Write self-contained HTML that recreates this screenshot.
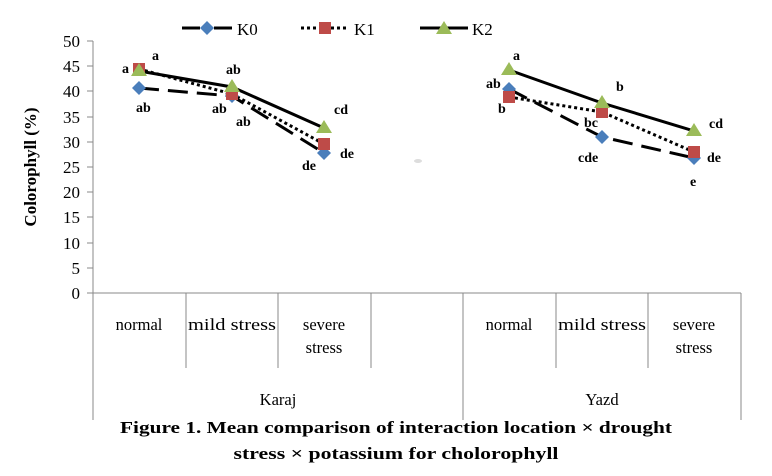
<!DOCTYPE html>
<html><head><meta charset="utf-8"><style>body{margin:0;background:#fff}svg{display:block}</style></head><body>
<svg width="772" height="476" xmlns="http://www.w3.org/2000/svg" font-family="'Liberation Serif',serif">
<rect width="772" height="476" fill="#fff"/>
<g stroke="#888" stroke-width="1">
<line x1="93" y1="41" x2="93" y2="420"/>
<line x1="87" y1="293" x2="741" y2="293"/>
<line x1="186" y1="293" x2="186" y2="368"/><line x1="278" y1="293" x2="278" y2="368"/><line x1="371" y1="293" x2="371" y2="368"/>
<line x1="463" y1="293" x2="463" y2="420"/>
<line x1="556" y1="293" x2="556" y2="368"/><line x1="648" y1="293" x2="648" y2="368"/><line x1="741" y1="293" x2="741" y2="420"/>
<line x1="87" y1="41" x2="93" y2="41"/><line x1="87" y1="66" x2="93" y2="66"/><line x1="87" y1="91" x2="93" y2="91"/><line x1="87" y1="117" x2="93" y2="117"/><line x1="87" y1="142" x2="93" y2="142"/><line x1="87" y1="167" x2="93" y2="167"/><line x1="87" y1="192" x2="93" y2="192"/><line x1="87" y1="217" x2="93" y2="217"/><line x1="87" y1="243" x2="93" y2="243"/><line x1="87" y1="268" x2="93" y2="268"/>
</g>
<g font-size="17" text-anchor="end" fill="#000">
<text x="80" y="47">50</text><text x="80" y="72">45</text><text x="80" y="97">40</text><text x="80" y="123">35</text><text x="80" y="148">30</text><text x="80" y="173">25</text><text x="80" y="198">20</text><text x="80" y="223">15</text><text x="80" y="249">10</text><text x="80" y="274">5</text><text x="80" y="299">0</text>
</g>
<text transform="translate(36,167) rotate(-90)" font-size="17" font-weight="bold" text-anchor="middle">Colorophyll (%)</text>
<g font-size="16.5" text-anchor="middle">
<text x="139" y="330">normal</text><text x="232" y="330" textLength="88" lengthAdjust="spacingAndGlyphs">mild stress</text><text x="324" y="330">severe</text><text x="324" y="353">stress</text>
<text x="509" y="330">normal</text><text x="602" y="330" textLength="88" lengthAdjust="spacingAndGlyphs">mild stress</text><text x="694" y="330">severe</text><text x="694" y="353">stress</text>
<text x="278" y="405">Karaj</text><text x="602" y="405">Yazd</text>
</g>
<g font-size="17" font-weight="bold" text-anchor="middle">
<text x="396" y="433" textLength="552" lengthAdjust="spacingAndGlyphs">Figure 1. Mean comparison of interaction location × drought</text>
<text x="396" y="459" textLength="325" lengthAdjust="spacingAndGlyphs">stress × potassium for cholorophyll</text>
</g>
<g fill="none" stroke="#000" stroke-width="3">
<polyline points="139,88 232,96 324,153" stroke-dasharray="20,9"/>
<polyline points="509,89 602,137 694,158" stroke-dasharray="20,9"/>
<polyline points="139,69 232,94 324,144" stroke-dasharray="3,3"/>
<polyline points="509,97 602,112 694,152" stroke-dasharray="3,3"/>
<polyline points="139,71 232,87 324,128"/>
<polyline points="509,70 602,103 694,131"/>
</g>
<g fill="#4a7ebb"><path d="M139,81l7,7-7,7-7-7z"/><path d="M232,89l7,7-7,7-7-7z"/><path d="M324,146l7,7-7,7-7-7z"/><path d="M509,82l7,7-7,7-7-7z"/><path d="M602,130l7,7-7,7-7-7z"/><path d="M694,151l7,7-7,7-7-7z"/></g>
<g fill="#be4b48"><rect x="133" y="63" width="12" height="12"/><rect x="226" y="88" width="12" height="12"/><rect x="318" y="138" width="12" height="12"/><rect x="503" y="91" width="12" height="12"/><rect x="596" y="106" width="12" height="12"/><rect x="688" y="146" width="12" height="12"/></g>
<g fill="#9bbb59"><path d="M139,63l8,13h-16z"/><path d="M232,79l8,13h-16z"/><path d="M324,120l8,13h-16z"/><path d="M509,62l8,13h-16z"/><path d="M602,95l8,13h-16z"/><path d="M694,123l8,13h-16z"/></g>
<g font-size="14" font-weight="bold">
<text x="152" y="60">a</text><text x="122" y="73">a</text><text x="136" y="112">ab</text>
<text x="226" y="74">ab</text><text x="212" y="113">ab</text><text x="236" y="126">ab</text>
<text x="334" y="114">cd</text><text x="340" y="158">de</text><text x="302" y="170">de</text>
<text x="513" y="60">a</text><text x="486" y="88">ab</text><text x="498" y="113">b</text>
<text x="616" y="91">b</text><text x="584" y="127">bc</text><text x="578" y="162">cde</text>
<text x="709" y="128">cd</text><text x="707" y="162">de</text><text x="690" y="186">e</text>
</g>
<g stroke="#000" stroke-width="3" fill="none">
<line x1="182" y1="28" x2="200" y2="28"/><line x1="214" y1="28" x2="232" y2="28"/>
<line x1="301" y1="28" x2="349" y2="28" stroke-dasharray="3,3"/>
<line x1="420" y1="28" x2="468" y2="28"/>
</g>
<path d="M207,21l7,7-7,7-7-7z" fill="#4a7ebb"/>
<rect x="319" y="22" width="12" height="12" fill="#be4b48"/>
<path d="M444,21l8,13h-16z" fill="#9bbb59"/>
<g font-size="17"><text x="237" y="35">K0</text><text x="354" y="35">K1</text><text x="472" y="35">K2</text></g>
<ellipse cx="418" cy="161" rx="4" ry="2" fill="#ddd"/>
</svg>
</body></html>
